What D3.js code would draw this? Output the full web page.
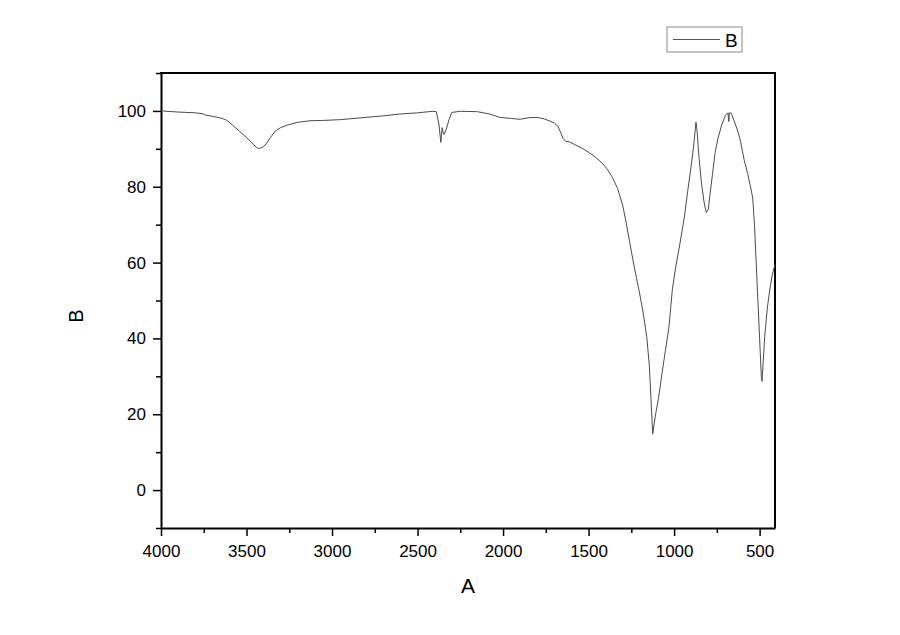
<!DOCTYPE html>
<meta charset="utf-8">
<script src="https://d3js.org/d3.v7.min.js"></script>
<style>
body { margin: 0; padding: 0; background: #fff; }
svg { font-family: Arial, 'Liberation Sans', sans-serif; display: block; }
</style>
<body>
<div id="chart"></div>
<script>

// spectrum: wavenumber (A) and transmittance (B)
var wavenumber = [4000, 3900, 3800, 3760, 3740, 3700, 3660, 3640, 3615, 3580,
  3540, 3500, 3460, 3440, 3425, 3405, 3385, 3360, 3330, 3300,
  3260, 3200, 3130, 3050, 3000, 2950, 2900, 2800, 2700, 2600,
  2500, 2410, 2390, 2375, 2364, 2356, 2350, 2344, 2330, 2315,
  2300, 2250, 2150, 2080, 2020, 1950, 1900, 1850, 1800, 1760,
  1730, 1700, 1680, 1665, 1650, 1635, 1610, 1580, 1540, 1500,
  1460, 1420, 1390, 1360, 1330, 1300, 1280, 1260, 1240, 1220,
  1200, 1180, 1160, 1145, 1135, 1125, 1110, 1090, 1070, 1050,
  1030, 1010, 990, 965, 940, 920, 900, 885, 872, 866,
  855, 840, 825, 812, 800, 790, 775, 760, 745, 720,
  700, 685, 680, 677, 665, 650, 630, 614, 590, 570,
  556, 540, 530, 520, 510, 500, 490, 486, 480, 470,
  455, 440, 425, 410];
var transmittance = [100, 99.7, 99.5, 99.3, 98.9, 98.6, 98.2, 98.0, 97.5, 96.2,
  94.6, 93.0, 91.2, 90.3, 90.1, 90.4, 91.3, 93.0, 94.8, 95.6,
  96.3, 97.0, 97.4, 97.5, 97.6, 97.7, 97.9, 98.3, 98.7, 99.2,
  99.5, 99.9, 99.8, 96.5, 91.7, 95.6, 94.2, 93.8, 95.5, 97.8,
  99.6, 99.9, 99.8, 99.2, 98.3, 98.0, 97.8, 98.2, 98.3, 97.9,
  97.4, 96.8, 96.0, 94.5, 92.8, 92.0, 91.8, 91.1, 90.2, 89.1,
  87.8, 86.2, 84.6, 82.4, 79.5, 75.0, 70.5, 65.5, 60.5, 56,
  51.5, 46.5, 40.5, 33, 24, 14.8, 19.5, 24.5, 31, 37,
  43, 53, 59, 65.2, 72, 79, 85.5, 91, 97, 95,
  88, 81, 76, 73.2, 74, 78, 83.5, 89, 92.5, 96.5,
  98.8, 99.5, 97.2, 99.5, 99.4, 97.5, 95, 92.5, 87, 83.5,
  80.6, 77, 70, 60, 50, 40, 30, 28.7, 33, 40.5,
  48, 53, 57, 59.5];

var xTicks = [4000, 3500, 3000, 2500, 2000, 1500, 1000, 500];
var yTicks = [0, 20, 40, 60, 80, 100];
var seriesName = "B";

var margin = {top: 73, right: 125, bottom: 107, left: 161},
    width = 900 - margin.left - margin.right,
    height = 635 - margin.top - margin.bottom;

var svg = d3.select("#chart")
  .append("svg")
    .attr("width", 900)
    .attr("height", 635);

svg.append("rect").attr("width", 900).attr("height", 635).attr("fill", "#fff");

var g = svg.append("g")
    .attr("transform", "translate(" + margin.left + "," + margin.top + ")");

var x = d3.scaleLinear().domain([4000, 410]).range([0, width]);
var y = d3.scaleLinear().domain([-10, 110]).range([height, 0]);

// minor ticks first, then the major axis on top
var xMinor = d3.range(3750, 410, -500);
g.append("g")
  .attr("transform", "translate(0," + height + ")")
  .call(d3.axisBottom(x).tickValues(xMinor).tickSize(5).tickFormat(""))
  .call(function(a) { a.select(".domain").remove(); });

var yMinor = d3.range(-10, 111, 20);
g.append("g")
  .call(d3.axisLeft(y).tickValues(yMinor).tickSize(5).tickFormat(""))
  .call(function(a) { a.select(".domain").remove(); });

var xAxis = g.append("g")
  .attr("transform", "translate(0," + height + ")")
  .call(d3.axisBottom(x).tickValues(xTicks).tickSize(8).tickSizeOuter(0)
    .tickPadding(9).tickFormat(d3.format("d")));
xAxis.selectAll("text").attr("font-size", 17).attr("fill", "#000");

var yAxis = g.append("g")
  .call(d3.axisLeft(y).tickValues(yTicks).tickSize(8).tickSizeOuter(0)
    .tickPadding(7).tickFormat(d3.format("d")));
yAxis.selectAll("text").attr("font-size", 17).attr("fill", "#000");

g.selectAll(".domain").attr("stroke-width", 2);
g.selectAll(".tick line").attr("stroke-width", 1.5);

// top and right frame
g.append("line").attr("x1", -1).attr("x2", width + 1).attr("y1", 0).attr("y2", 0)
  .attr("stroke", "#000").attr("stroke-width", 2);
g.append("line").attr("x1", width).attr("x2", width).attr("y1", 0).attr("y2", height)
  .attr("stroke", "#000").attr("stroke-width", 2);

// the spectrum
var data = wavenumber.map(function(d, i) { return [d, transmittance[i]]; });
var line = d3.line()
  .x(function(d) { return x(d[0]); })
  .y(function(d) { return y(d[1]); });

g.append("path")
  .datum(data)
  .attr("fill", "none")
  .attr("stroke", "#4a4a4a")
  .attr("stroke-width", 1)
  .attr("d", line);

// axis titles
svg.append("text")
  .attr("x", 468)
  .attr("y", 593)
  .attr("text-anchor", "middle")
  .attr("font-size", 21)
  .text("A");

svg.append("text")
  .attr("transform", "translate(83,316) rotate(-90)")
  .attr("text-anchor", "middle")
  .attr("font-size", 20)
  .text(seriesName);

// legend
var legend = svg.append("g").attr("transform", "translate(667,27)");
legend.append("rect")
  .attr("width", 75).attr("height", 25)
  .attr("fill", "#fff").attr("stroke", "#888").attr("stroke-width", 1);
legend.append("line")
  .attr("x1", 6).attr("x2", 53).attr("y1", 12.5).attr("y2", 12.5)
  .attr("stroke", "#555").attr("stroke-width", 1);
legend.append("text")
  .attr("x", 58).attr("y", 20)
  .attr("font-size", 19)
  .text(seriesName);

</script>
</body>
